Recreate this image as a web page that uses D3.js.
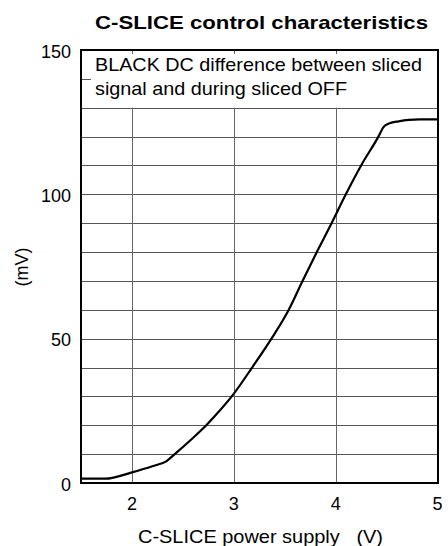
<!DOCTYPE html>
<html>
<head>
<meta charset="utf-8">
<script src="https://cdn.jsdelivr.net/npm/d3@7"></script>
<style>
  body { margin: 0; background: #fff; }
  text { font-family: "Liberation Sans", Arial, sans-serif; }
</style>
</head>
<body>
<svg id="drawing_region"></svg>
<script>
// curve: supply voltage (V) -> difference (mV)
const volts = [1.5, 1.74, 2.0, 2.2, 2.34, 2.42, 2.58, 2.73, 2.86, 2.98, 3.18, 3.37, 3.54, 3.675, 3.815, 3.96, 4.1, 4.25, 4.42, 4.47, 4.53, 4.62, 4.72, 4.82, 5.0];
const millivolts = [1.5, 1.5, 3.7, 5.8, 7.6, 10, 15, 20, 25, 30, 40, 50, 60, 70, 80, 90, 100, 110, 120, 123.3, 124.6, 125.3, 125.8, 126, 126];
const xTicks = [2, 3, 4, 5];
const yTicks = [0, 50, 100, 150];
const yGrid = [10, 20, 30, 40, 50, 60, 70, 80, 90, 100, 110, 120, 130];

const title = "C-SLICE control characteristics";
const noteLines = ["BLACK DC difference between sliced", "signal and during sliced OFF"];
const xTitle = "C-SLICE power supply   (V)";
const yTitle = "(mV)";

const config = {
    width: 448,
    height: 546,
    margin: {top: 50, right: 10, bottom: 63, left: 81}
};

const svg = d3.select('#drawing_region')
    .attr('width', config.width)
    .attr('height', config.height);

const inner_width = config.width - config.margin.left - config.margin.right;
const inner_height = config.height - config.margin.top - config.margin.bottom;

const chart = svg.append('g')
    .attr('transform', `translate(${config.margin.left}, ${config.margin.top})`);

const xscale = d3.scaleLinear().domain([1.5, 5]).range([0, inner_width - 0.5]);
const yscale = d3.scaleLinear().domain([0, 150]).range([inner_height, 0]);

// horizontal grid
chart.selectAll('.hgrid')
    .data(yGrid)
    .enter()
    .append('line')
    .attr('x1', 0).attr('x2', inner_width)
    .attr('y1', d => Math.round(yscale(d)) + 0.5)
    .attr('y2', d => Math.round(yscale(d)) + 0.5)
    .attr('stroke', '#555')
    .attr('stroke-width', 1);

// vertical grid (stops under the note box)
chart.selectAll('.vgrid')
    .data(xTicks.filter(d => d < 5))
    .enter()
    .append('line')
    .attr('x1', d => Math.round(xscale(d)) + 0.5)
    .attr('x2', d => Math.round(xscale(d)) + 0.5)
    .attr('y1', yscale(130))
    .attr('y2', inner_height)
    .attr('stroke', '#666')
    .attr('stroke-width', 1);

// small inner ticks at the top and at 140
chart.selectAll('.ttick')
    .data(xTicks.filter(d => d < 5))
    .enter()
    .append('line')
    .attr('x1', d => Math.round(xscale(d)) + 0.5)
    .attr('x2', d => Math.round(xscale(d)) + 0.5)
    .attr('y1', 0)
    .attr('y2', 4)
    .attr('stroke', '#666');

chart.append('line')
    .attr('x1', 0).attr('x2', 10)
    .attr('y1', Math.round(yscale(140)) + 0.5)
    .attr('y2', Math.round(yscale(140)) + 0.5)
    .attr('stroke', '#555');

// frame
chart.append('rect')
    .attr('x', 0).attr('y', 0)
    .attr('width', inner_width).attr('height', inner_height)
    .attr('fill', 'none')
    .attr('stroke', '#000')
    .attr('stroke-width', 2);

// note
const noteWidths = [327, 252];
chart.selectAll('.note')
    .data(noteLines)
    .enter()
    .append('text')
    .attr('x', 14)
    .attr('y', (d, i) => 21 + i * 24)
    .attr('font-size', 18.5)
    .attr('textLength', (d, i) => noteWidths[i])
    .attr('lengthAdjust', 'spacingAndGlyphs')
    .attr('fill', '#000')
    .text(d => d);

// curve
const line = d3.line()
    .x(d => xscale(d[0]))
    .y(d => yscale(d[1]))
    .curve(d3.curveMonotoneX);

chart.append('path')
    .datum(volts.map((v, i) => [v, millivolts[i]]))
    .attr('d', line)
    .attr('fill', 'none')
    .attr('stroke', '#000')
    .attr('stroke-width', 2.2);

// tick labels
chart.selectAll('.xlab')
    .data(xTicks)
    .enter()
    .append('text')
    .attr('x', d => xscale(d))
    .attr('y', inner_height + 27)
    .attr('text-anchor', 'middle')
    .attr('font-size', 18)
    .text(d => d);

chart.selectAll('.ylab')
    .data(yTicks)
    .enter()
    .append('text')
    .attr('x', -10)
    .attr('y', d => yscale(d) + 7.5)
    .attr('text-anchor', 'end')
    .attr('font-size', 18)
    .text(d => d);

// titles
svg.append('text')
    .attr('x', 95)
    .attr('y', 28.5)
    .attr('font-size', 18.5)
    .attr('font-weight', 'bold')
    .attr('textLength', 333)
    .attr('lengthAdjust', 'spacingAndGlyphs')
    .text(title);

svg.append('text')
    .attr('x', 138)
    .attr('y', 543)
    .attr('font-size', 18.5)
    .attr('textLength', 245)
    .attr('lengthAdjust', 'spacingAndGlyphs')
    .attr('xml:space', 'preserve')
    .style('white-space', 'pre')
    .text(xTitle);

svg.append('text')
    .attr('transform', 'translate(28, 267) rotate(-90)')
    .attr('text-anchor', 'middle')
    .attr('font-size', 18)
    .text(yTitle);
</script>
</body>
</html>
